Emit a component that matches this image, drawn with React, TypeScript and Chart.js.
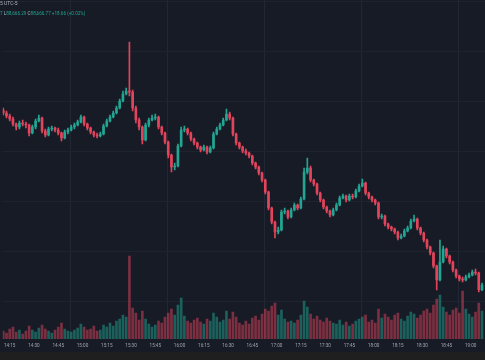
import React, { useEffect, useRef } from 'react';
import { Chart, registerables } from 'chart.js';

Chart.register(...registerables);

// ---- data ----
const FIRST_CANDLE = '14:11';
const CANDLE_MINUTES = 2;
const TICK_LABELS = ['14:15','14:30','14:45','15:00','15:15','15:30','15:45','16:00','16:15','16:30','16:45','17:00','17:15','17:30','17:45','18:00','18:15','18:30','18:45','19:00'];
const PRICE_GRID = [88600, 88800, 89000, 89200, 89400, 89600, 89800];
const FIRST_OPEN = 89367;

const CLOSE = [
  89355,89343,89331,89311,89299,89315,89311,89307,89275,89299,
  89323,89335,89283,89267,89291,89295,89287,89275,89255,89279,
  89287,89299,89307,89319,89339,89311,89295,89279,89267,89263,
  89271,89303,89323,89339,89355,89375,89403,89431,89443,89439,
  89375,89327,89299,89247,89307,89327,89335,89339,89299,89275,
  89239,89187,89139,89143,89223,89287,89291,89275,89251,89235,
  89219,89207,89219,89199,89215,89271,89291,89307,89327,89351,
  89335,89271,89235,89219,89203,89195,89183,89155,89139,89115,
  89087,89039,88975,88919,88879,88887,88959,88963,88939,88967,
  88987,88975,89011,89119,89135,89087,89071,89035,89007,88979,
  88963,88947,88967,88987,89015,89023,89007,89023,89019,89043,
  89063,89075,89035,89019,89007,88995,88939,88943,88911,88899,
  88891,88879,88855,88863,88883,88895,88923,88931,88895,88875,
  88847,88819,88795,88743,88687,88759,88811,88783,88759,88727,
  88703,88691,88687,88699,88707,88719,88715,88648.11,88666.77,
];

const HIGH = [
  89375,89363,89351,89339,89315,89323,89327,89319,89311,89307,
  89331,89347,89339,89291,89299,89303,89299,89295,89279,89287,
  89295,89307,89315,89327,89347,89343,89315,89299,89283,89275,
  89279,89311,89331,89347,89363,89383,89411,89443,89455,89639,
  89447,89383,89335,89303,89315,89335,89347,89351,89343,89303,
  89279,89243,89191,89155,89231,89299,89303,89295,89279,89255,
  89239,89223,89227,89223,89223,89279,89299,89315,89335,89371,
  89359,89339,89275,89239,89223,89211,89199,89187,89159,89143,
  89119,89091,89043,88979,88923,88899,88967,88975,88967,88975,
  88995,88991,89019,89135,89175,89143,89091,89075,89039,89011,
  88983,88967,88975,88995,89023,89031,89027,89031,89031,89051,
  89071,89091,89079,89039,89023,89011,88999,88951,88947,88915,
  88903,88895,88883,88871,88891,88903,88931,88947,88935,88899,
  88879,88851,88823,88799,88747,88847,88823,88815,88787,88763,
  88731,88707,88699,88707,88715,88727,88731,88719,88675,
];

const LOW = [
  89347,89335,89323,89303,89287,89291,89303,89295,89263,89271,
  89291,89319,89275,89259,89263,89283,89279,89267,89243,89251,
  89271,89283,89291,89303,89315,89303,89287,89271,89259,89255,
  89259,89267,89299,89319,89335,89351,89371,89399,89427,89423,
  89363,89315,89287,89231,89243,89299,89323,89327,89291,89267,
  89231,89175,89119,89127,89139,89219,89279,89267,89243,89227,
  89211,89199,89203,89191,89195,89211,89267,89287,89303,89323,
  89327,89263,89227,89211,89195,89187,89175,89147,89131,89107,
  89079,89031,88967,88911,88855,88871,88883,88951,88931,88935,
  88963,88967,88971,89007,89111,89079,89063,89027,88999,88971,
  88955,88939,88943,88963,88983,89011,88999,89003,89011,89015,
  89039,89059,89027,89011,88999,88987,88931,88931,88903,88891,
  88883,88871,88847,88851,88859,88879,88891,88919,88887,88867,
  88839,88811,88787,88735,88647,88683,88755,88775,88751,88719,
  88695,88683,88679,88683,88695,88703,88707,88639,88644,
];

const VOLUME = [
  0.8,0.6,1.0,1.2,0.7,0.9,0.5,0.8,1.3,0.9,
  0.7,1.1,1.4,1.0,0.8,0.6,0.9,1.2,1.6,1.0,
  0.8,0.7,0.9,1.1,1.5,1.2,0.9,1.0,1.3,0.8,
  0.9,1.4,1.2,1.6,1.3,1.8,2.0,2.4,2.2,8.3,
  3.1,2.6,1.9,2.8,2.0,1.5,1.2,1.4,1.8,1.6,
  2.2,2.6,3.0,2.4,3.4,4.1,2.3,1.8,1.6,1.9,
  2.1,1.7,1.5,2.0,1.8,2.6,2.2,1.7,1.9,2.8,
  2.0,2.7,2.2,1.6,1.4,1.8,1.5,2.1,2.3,1.9,
  2.5,3.0,2.8,3.3,3.6,2.4,2.9,2.0,1.7,1.8,
  1.6,1.9,2.4,3.8,3.2,2.5,2.0,2.3,1.9,1.7,
  2.1,1.8,1.6,1.5,1.9,1.4,1.7,1.3,1.5,1.8,
  2.0,2.2,2.4,1.7,1.9,1.6,3.0,2.1,2.5,2.2,
  1.9,2.4,2.6,2.0,1.8,2.3,2.7,2.5,2.1,2.4,
  2.8,3.0,2.6,3.4,4.0,4.4,3.2,2.7,2.4,2.9,
  3.1,2.6,4.8,3.0,2.5,2.2,2.7,3.6,2.8,
];

// ---- style ----
const BG = '#171b26';
const UP = '#22a592';
const DOWN = '#e2445c';
const UP_VOL = 'rgba(34,165,146,0.5)';
const DOWN_VOL = 'rgba(226,68,92,0.5)';
const FONT = 'Roboto, "DejaVu Sans", sans-serif';

const toMin = (s: string) => {
  const [h, m] = s.split(':').map(Number);
  return h * 60 + m;
};
const PX_PER_MIN = 24.4 / 15;
const X_MIN = toMin('14:15') - 7 / PX_PER_MIN;
const X_MAX = X_MIN + 485 / PX_PER_MIN;

export default function App() {
  const ref = useRef<HTMLCanvasElement | null>(null);

  useEffect(() => {
    const t0 = toMin(FIRST_CANDLE);
    const xs = CLOSE.map((_, i) => t0 + i * CANDLE_MINUTES);
    const opens = CLOSE.map((_, i) => (i === 0 ? FIRST_OPEN : CLOSE[i - 1]));
    const isUp = CLOSE.map((c, i) => c >= opens[i]);

    const bgPlugin = {
      id: 'bg',
      beforeDraw(chart: any) {
        const { ctx, width, height } = chart;
        ctx.save();
        ctx.fillStyle = BG;
        ctx.fillRect(0, 0, width, height);
        ctx.restore();
      },
    };

    const chart = new Chart(ref.current as HTMLCanvasElement, {
      type: 'bar',
      data: {
        datasets: [
          {
            label: 'body',
            yAxisID: 'y',
            data: xs.map((x, i) => ({ x, y: [opens[i], CLOSE[i]] })) as any,
            backgroundColor: isUp.map((u) => (u ? UP : DOWN)),
            barThickness: 2,
            minBarLength: 1,
            grouped: false,
            order: 1,
          } as any,
          {
            label: 'wick',
            yAxisID: 'y',
            data: xs.map((x, i) => ({ x, y: [LOW[i], HIGH[i]] })) as any,
            backgroundColor: isUp.map((u) => (u ? UP : DOWN)),
            barThickness: 1,
            grouped: false,
            order: 2,
          } as any,
          {
            label: 'volume',
            yAxisID: 'yv',
            data: xs.map((x, i) => ({ x, y: VOLUME[i] })) as any,
            backgroundColor: isUp.map((u) => (u ? UP_VOL : DOWN_VOL)),
            barThickness: 2,
            grouped: false,
            order: 3,
          } as any,
        ],
      },
      options: {
        responsive: false,
        devicePixelRatio: 1,
        animation: false,
        layout: { padding: 0 },
        plugins: { legend: { display: false }, tooltip: { enabled: false } },
        scales: {
          x: {
            type: 'linear',
            min: X_MIN,
            max: X_MAX,
            offset: false,
            afterBuildTicks: (axis: any) => {
              axis.ticks = TICK_LABELS.map((l) => ({ value: toMin(l) }));
            },
            afterFit: (axis: any) => {
              axis.height = 13;
            },
            ticks: {
              autoSkip: false,
              maxRotation: 0,
              padding: 4,
              color: '#a3a6af',
              font: { size: 4.6, family: FONT },
              callback: (_v: any, i: number) => TICK_LABELS[i],
            },
            grid: {
              drawTicks: false,
              color: (c: any) =>
                c.tick && TICK_LABELS[c.index] && TICK_LABELS[c.index].endsWith(':00') ? '#232733' : 'transparent',
            },
            border: { display: false },
          } as any,
          y: {
            position: 'right',
            min: 88451,
            max: 89807,
            afterBuildTicks: (axis: any) => {
              axis.ticks = PRICE_GRID.map((v) => ({ value: v }));
            },
            afterFit: (axis: any) => {
              axis.width = 0;
            },
            ticks: { display: false },
            grid: { drawTicks: false, color: '#1f2330' },
            border: { display: false },
          } as any,
          yv: {
            display: false,
            min: 0,
            max: 33.9,
          } as any,
        },
      },
      plugins: [bgPlugin],
    });

    return () => chart.destroy();
  }, []);

  return (
    <div style={{ position: 'fixed', left: 0, top: 0, width: 485, height: 360, background: '#1f1f1f', overflow: 'hidden' }}>
      <canvas ref={ref} width={485} height={352} style={{ display: 'block', width: 485, height: 352 }} />
      <div style={{ position: 'absolute', left: 0, top: 0, fontFamily: FONT, fontSize: 5, lineHeight: '6px', color: '#b2b5be', whiteSpace: 'nowrap' }}>
        5 UTC-5
      </div>
      <div style={{ position: 'absolute', left: 0, top: 11, fontFamily: FONT, fontSize: 4.6, lineHeight: '6px', color: '#22a592', whiteSpace: 'nowrap' }}>
        7 <span style={{ color: '#b2b5be' }}>L</span>88,666.29 <span style={{ color: '#b2b5be' }}>C</span>88,666.77 +18.66 (+0.02%)
      </div>
    </div>
  );
}
